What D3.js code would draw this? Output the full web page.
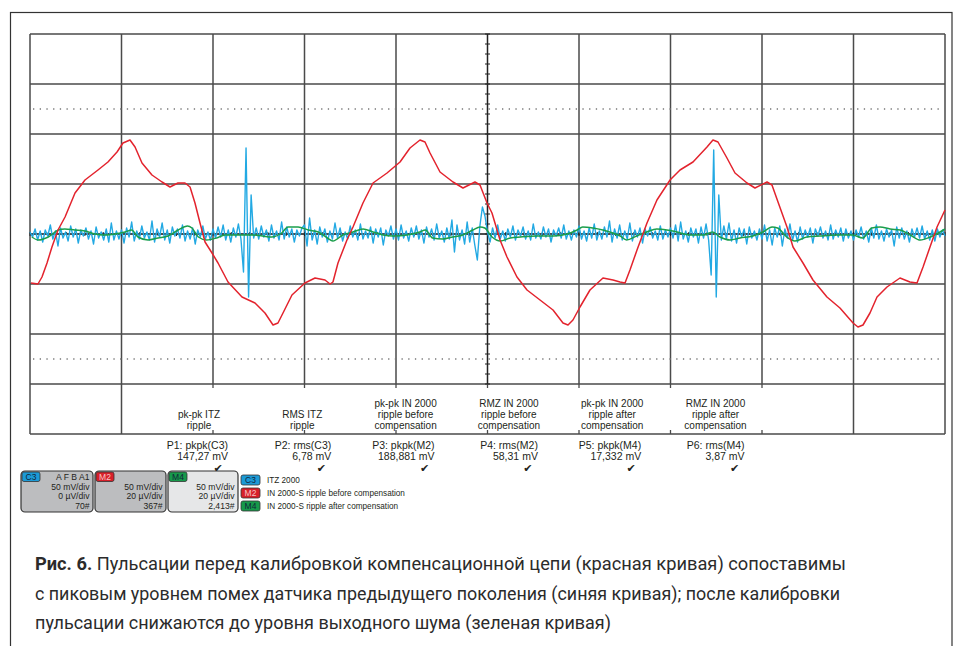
<!DOCTYPE html>
<html><head><meta charset="utf-8">
<script src="https://cdn.jsdelivr.net/npm/d3@7"></script>
<style>
html,body{margin:0;padding:0;background:#fff;}
svg{display:block;}
text{font-family:"Liberation Sans",Arial,sans-serif;fill:#231f20;}
</style></head>
<body>
<svg id="chart" width="959" height="646"></svg>
<script>
// ---------- DATA (time in divisions, amplitude in mV; 50 mV/div) ----------
const redT = [
 0.011,0.087,0.131,0.186,0.240,0.306,0.383,0.492,0.601,0.743,
 0.852,0.951,1.016,1.093,1.148,1.224,1.333,1.443,1.530,1.617,
 1.694,1.749,1.803,1.858,1.913,1.989,2.055,2.164,2.317,2.459,
 2.568,2.656,2.710,2.765,2.863,3.005,3.115,3.224,3.279,3.311,
 3.366,3.464,3.530,3.639,3.749,3.902,4.044,4.153,4.262,4.317,
 4.372,4.481,4.623,4.732,4.863,4.918,4.995,5.049,5.137,5.213,
 5.322,5.432,5.574,5.716,5.825,5.880,5.934,6.011,6.120,6.262,
 6.372,6.448,6.503,6.557,6.634,6.743,6.852,6.995,7.104,7.246,
 7.399,7.464,7.519,7.617,7.705,7.836,7.923,8.055,8.109,8.175,
 8.273,8.339,8.448,8.557,8.710,8.852,8.995,9.049,9.104,9.180,
 9.257,9.366,9.508,9.617,9.694,9.760,9.836,9.913,10.0];
const redV = [
 -49,-50,-43,-29,-13,4,17,41,54,64,
 72,82,91,94,87,71,59,52,47,51,
 51,47,31,11,-8,-19,-29,-48,-63,-69,
 -79,-91,-89,-79,-61,-49,-44,-46,-50,-48,
 -29,-6,7,31,51,61,72,86,94,92,
 81,62,52,46,52,49,31,21,-6,-23,
 -43,-56,-66,-76,-89,-91,-86,-73,-56,-44,
 -46,-48,-49,-36,-16,11,34,54,64,72,
 87,94,92,76,61,51,46,52,49,32,
 7,-13,-29,-46,-63,-74,-89,-93,-91,-79,
 -63,-53,-44,-48,-49,-33,-13,7,24];

const greenT = [
 0.02,0.09,0.20,0.31,0.38,0.49,0.60,0.71,0.82,0.93,
 1.04,1.11,1.18,1.29,1.40,1.51,1.62,1.72,1.77,1.84,
 1.93,2.04,2.13,2.27,2.43,2.54,2.64,2.75,2.82,2.93,
 3.04,3.15,3.25,3.31,3.42,3.53,3.64,3.75,3.86,3.97,
 4.12,4.26,4.32,4.40,4.51,4.62,4.73,4.84,4.92,4.97,
 5.05,5.14,5.25,5.36,5.54,5.72,5.87,5.98,6.04,6.15,
 6.26,6.37,6.45,6.52,6.63,6.74,6.85,6.96,7.07,7.21,
 7.36,7.46,7.54,7.65,7.76,7.90,8.01,8.11,8.17,8.27,
 8.36,8.49,8.63,8.82,8.99,9.10,9.20,9.29,9.40,9.51,
 9.62,9.73,9.84,10.00];
const greenV = [
 -3,-6,-3,4,5,4,3,0,-1,0,
 2,4,-3,-6,-4,-2,4,8,6,-3,
 -6,-4,-1,-1,-1,-2,-3,1,7,7,
 4,2,-4,-7,-1,2,5,2,-1,-2,
 -1,2,4,-4,-5,-3,-1,4,7,6,
 -3,-7,-4,-3,-2,-2,0,4,7,6,
 4,1,-2,-6,-2,2,5,4,2,-1,
 -1,2,-3,-6,-4,-2,2,7,6,-3,
 -7,-3,-2,-1,-1,-4,6,7,5,4,
 -1,-6,-3,5];

// C3 samples, one every 1/36 division
const blueStep = 1/36;
const blueV = [
 2,-3,5,-6,3,-8,4,-2,9,-5,3,-12,6,-4,2,-7,8,-3,5,-9,4,-2,6,-5,3,-10,7,-4,2,-6,5,-8,11,-6,3,-5,
 4,-9,6,-3,12,-7,3,-5,8,-4,2,-6,13,-8,5,-3,11,-6,4,-9,7,-2,5,-4,9,-7,3,-5,6,-10,4,-3,8,-5,2,-6,
 5,-4,7,-3,9,-6,4,-8,6,-3,10,-5,-38,86,-63,39,-4,6,-5,8,-3,4,-7,9,-4,3,-6,12,-5,7,-3,5,-8,4,-2,6,
 9,-12,16,-6,4,-10,7,-3,5,-8,3,-5,11,-4,6,-7,2,-5,8,-3,4,-6,10,-5,3,-4,7,-9,5,-3,6,-11,4,-2,8,-5,
 5,-6,9,-4,3,-7,6,-3,8,-5,4,-9,7,-3,5,-6,10,-4,3,-8,6,-5,14,-18,9,-6,4,-10,12,-8,6,-11,-26,8,27,18,
 2,-8,6,-4,9,-5,3,-7,5,-3,8,-6,4,-2,7,-5,3,-6,10,-4,2,-5,7,-3,5,-8,4,-2,6,-4,9,-5,3,-6,4,-3,
 8,-5,3,-7,6,-4,10,-6,3,-5,7,-3,13,-8,5,-4,9,-6,3,-5,11,-7,4,-3,6,-9,5,-2,7,-4,3,-6,8,-5,4,-3,
 6,-4,9,-7,12,-5,3,-8,6,-3,5,-9,7,-4,10,-6,-41,84,-63,39,-6,8,-5,11,-7,4,-9,6,-3,5,-10,7,-4,3,-6,5,
 -5,9,-7,4,-11,6,-3,8,-12,5,-4,10,-6,3,-8,7,-5,4,-3,6,-9,5,-2,7,-4,3,-6,9,-5,4,-3,6,-7,5,-4,3,
 -6,4,-3,7,-5,3,-8,6,-4,9,-5,3,-7,5,-3,4,-12,7,-4,6,-5,3,-8,5,-3,6,-4,8,-5,3,-6,4,-7,5,-3,4,-2];

const annotLabels = [
 ["pk-pk ITZ","ripple"],
 ["RMS ITZ","ripple"],
 ["pk-pk IN 2000","ripple before","compensation"],
 ["RMZ IN 2000","ripple before","compensation"],
 ["pk-pk IN 2000","ripple after","compensation"],
 ["RMZ IN 2000","ripple after","compensation"]];
const measNames = ["P1: pkpk(C3)","P2: rms(C3)","P3: pkpk(M2)","P4: rms(M2)","P5: pkpk(M4)","P6: rms(M4)"];
const measValues = ["147,27 mV","6,78 mV","188,881 mV","58,31 mV","17,332 mV","3,87 mV"];

const chanNames = ["C3","M2","M4"];
const chanColors = ["#1c9ad6","#d7202a","#16994a"];
const chanBoxLines = [
 ["A F B A1","50 mV/div","0 µV/div","70#"],
 ["","50 mV/div","20 µV/div","367#"],
 ["","50 mV/div","20 µV/div","2,413#"]];
const legendTexts = ["ITZ 2000","IN 2000-S ripple before compensation","IN 2000-S ripple after compensation"];

const captionBold = "Рис. 6.";
const captionLines = [
 " Пульсации перед калибровкой компенсационной цепи (красная кривая) сопоставимы",
 "с пиковым уровнем помех датчика предыдущего поколения (синяя кривая); после калибровки",
 "пульсации снижаются до уровня выходного шума (зеленая кривая)"];

// ---------- DRAW ----------
const svg = d3.select("#chart");
const x = d3.scaleLinear().domain([0,10]).range([30,945]);
const y = d3.scaleLinear().domain([-200,200]).range([434,34]);
const gridColor = "#4a4a4a";

// outer frame
svg.append("rect").attr("x",10.5).attr("y",12.5).attr("width",941.5).attr("height",700)
  .attr("fill","none").attr("stroke","#333").attr("stroke-width",1.2);

const g = svg.append("g");
const divs = d3.range(0,11);
const rows = d3.range(-200,201,50);
// horizontal grid lines
g.selectAll("line.h").data(rows).join("line")
  .attr("x1",x(0)).attr("x2",x(10)).attr("y1",d=>y(d)).attr("y2",d=>y(d))
  .attr("stroke",gridColor).attr("stroke-width",1.5);
// vertical grid lines (bottom row mostly covered by annotations)
const fullCols = [0,1,9,10];
g.selectAll("line.v").data(divs).join("line")
  .attr("x1",d=>x(d)).attr("x2",d=>x(d)).attr("y1",y(200))
  .attr("y2",d=> fullCols.includes(d) ? y(-200) : y(-150))
  .attr("stroke",d=> d===5 ? "#222" : gridColor).attr("stroke-width",1.5);
// small ticks in bottom row
divs.filter(d=>!fullCols.includes(d)).forEach(d=>{
  g.append("line").attr("x1",x(d)).attr("x2",x(d)).attr("y1",y(-150)).attr("y2",y(-150)+4)
   .attr("stroke",gridColor).attr("stroke-width",1.3);
  g.append("line").attr("x1",x(d)).attr("x2",x(d)).attr("y1",y(-200)-4).attr("y2",y(-200))
   .attr("stroke",gridColor).attr("stroke-width",1.3);
});
// dotted lines
[125,-125].forEach(v=>{
  g.append("line").attr("x1",x(0)+3).attr("x2",x(10)).attr("y1",y(v)).attr("y2",y(v))
   .attr("stroke","#777").attr("stroke-width",1.3).attr("stroke-dasharray","1.3,5.4");
});
// centre cross with minor ticks
g.append("line").attr("x1",x(0)).attr("x2",x(10)).attr("y1",y(0)).attr("y2",y(0))
  .attr("stroke","#222").attr("stroke-width",1.1);
d3.range(0,50.01,1).forEach(k=>{
  const t=k/5;
  g.append("line").attr("x1",x(t)).attr("x2",x(t)).attr("y1",y(0)-2).attr("y2",y(0)+2)
   .attr("stroke","#222").attr("stroke-width",1);
});
d3.range(-150,200.01,10).forEach(v=>{
  g.append("line").attr("x1",x(5)-2.5).attr("x2",x(5)+2.5).attr("y1",y(v)).attr("y2",y(v))
   .attr("stroke","#222").attr("stroke-width",1);
});

// traces
const line = d3.line().x(d=>x(d[0])).y(d=>y(d[1]));
const blueData = blueV.map((v,i)=>[i*blueStep, v]);
const greenData = greenT.map((t,i)=>[t, greenV[i]]);
const redData = redT.map((t,i)=>[t, redV[i]]);
svg.append("path").attr("d",line(blueData)).attr("fill","none")
  .attr("stroke","#22a9e3").attr("stroke-width",1.4).attr("stroke-linejoin","round");
svg.append("path").attr("d",d3.line().x(d=>x(d[0])).y(d=>y(d[1])).curve(d3.curveMonotoneX)(greenData))
  .attr("fill","none").attr("stroke","#1b9e4b").attr("stroke-width",1.5);
svg.append("path").attr("d",line(redData)).attr("fill","none")
  .attr("stroke","#e3232d").attr("stroke-width",1.5).attr("stroke-linejoin","round");

// annotation labels inside bottom row
const labelCenter = i => 199 + i*103.3;
annotLabels.forEach((lines,i)=>{
  const base = 429 - (lines.length-1)*11;
  lines.forEach((s,j)=>{
    svg.append("text").attr("x",labelCenter(i)).attr("y",base + j*11)
      .attr("text-anchor","middle").attr("font-size",10).text(s);
  });
});
// measurements
measNames.forEach((s,i)=>{
  const rx = labelCenter(i)+29;
  svg.append("text").attr("x",rx).attr("y",449).attr("text-anchor","end")
    .attr("font-size",10.5).text(s);
  svg.append("text").attr("x",rx).attr("y",460).attr("text-anchor","end")
    .attr("font-size",10.5).text(measValues[i]);
  svg.append("text").attr("x",rx-10).attr("y",472).attr("text-anchor","middle")
    .attr("font-size",11).attr("font-weight","bold").style("font-family","DejaVu Sans").text("✔");
});

// channel boxes
const boxX = [21,95,168], boxW = [72,71,70], boxFill = ["#bcbdbf","#bcbdbf","#e6e7e8"];
chanNames.forEach((n,i)=>{
  svg.append("rect").attr("x",boxX[i]).attr("y",471).attr("width",boxW[i]).attr("height",41)
    .attr("rx",4).attr("fill",boxFill[i]).attr("stroke","#333").attr("stroke-width",1.2);
  svg.append("rect").attr("x",boxX[i]+1).attr("y",472).attr("width",18).attr("height",9.5)
    .attr("rx",2).attr("fill",chanColors[i]).attr("stroke","#333").attr("stroke-width",0.8);
  svg.append("text").attr("x",boxX[i]+10).attr("y",480).attr("text-anchor","middle")
    .attr("font-size",8.5).style("fill", i===1 ? "#f6c4c4" : "#10263a").text(n);
  chanBoxLines[i].forEach((s,j)=>{
    if(!s) return;
    svg.append("text").attr("x",boxX[i]+boxW[i]-3.5).attr("y",480+j*9.7)
      .attr("text-anchor","end").attr("font-size",8.6).text(s);
  });
  // legend
  const ly = 475 + i*13;
  svg.append("rect").attr("x",241).attr("y",ly).attr("width",19).attr("height",10)
    .attr("rx",2).attr("fill",chanColors[i]).attr("stroke","#333").attr("stroke-width",0.8);
  svg.append("text").attr("x",250.5).attr("y",ly+8.2).attr("text-anchor","middle")
    .attr("font-size",8.5).style("fill", i===1 ? "#f6c4c4" : "#10263a").text(n);
  svg.append("text").attr("x",267).attr("y",ly+7.5).attr("font-size",8.2).text(legendTexts[i]);
});

// caption
const capFont = "Roboto, 'Noto Sans', sans-serif";
const capEnds = [846, 840, 611];
const c1 = svg.append("text").attr("x",35).attr("y",570).attr("font-size",18.5)
  .style("font-family",capFont).style("fill","#2b2b2b");
c1.append("tspan").attr("font-weight","bold").text(captionBold);
c1.append("tspan").text(captionLines[0]);
c1.attr("textLength",capEnds[0]-35).attr("lengthAdjust","spacingAndGlyphs");
[1,2].forEach(k=>{
  svg.append("text").attr("x",35).attr("y",570+k*29.5).attr("font-size",18.5)
    .style("font-family",capFont).style("fill","#2b2b2b").attr("textLength",capEnds[k]-35)
    .attr("lengthAdjust","spacingAndGlyphs").text(captionLines[k]);
});
</script>
</body></html>
